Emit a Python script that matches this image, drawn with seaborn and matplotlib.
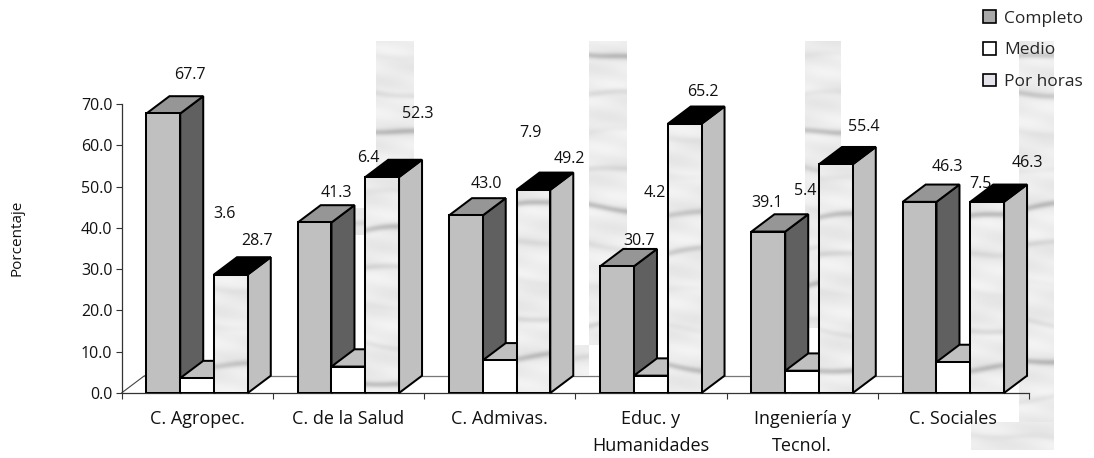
import matplotlib
matplotlib.use('Agg')
import matplotlib.pyplot as plt
from matplotlib.patches import Polygon, Patch

import numpy as np
import pandas as pd
import seaborn as sns

categories = ['C. Agropec.', 'C. de la Salud', 'C. Admivas.',
              'Educ. y\nHumanidades', 'Ingeniería y\nTecnol.', 'C. Sociales']
series = ['Completo', 'Medio', 'Por horas']
completo = [67.7, 41.3, 43.0, 30.7, 39.1, 46.3]
medio = [3.6, 6.4, 7.9, 4.2, 5.4, 7.5]
por_horas = [28.7, 52.3, 49.2, 65.2, 55.4, 46.3]

# label offsets from the top centre of each bar, in pixels
label_off = {
    'Completo': [(26.7, 38.4), (21.5, 29.4), (20.3, 31.4), (22, 25), (-1, 28.5), (27.7, 34.8)],
    'Medio': [(26.9, 164), (19.7, 208.6), (30.5, 227), (4.3, 182.7), (3, 179.7), (26.9, 178)],
    'Por horas': [(26.1, 33.5), (35.9, 63), (35.7, 30.8), (18.5, 31.7), (28.3, 37), (40, 39)],
}

W, H = 1094, 458
FONT = 'Open Sans'
DEPTH_X = 0.152   # category units
DEPTH_Y = 4.19    # percent units
EDGE = 1.45

front = {'Completo': '#c0c0c0', 'Medio': '#ffffff', 'Por horas': '#e4e4ea'}
top = {'Completo': '#969696', 'Medio': '#c0c0c0', 'Por horas': '#000000'}
side = {'Completo': '#606060', 'Medio': '#c0c0c0', 'Por horas': '#c0c0c0'}

# stray background pieces of the marble picture: x0, x1, y0, y1 in pixels
strips = [(376, 414, 41, 235), (589, 627, 41, 345), (805, 841, 41, 328),
          (1019, 1054, 41, 422), (971, 1054, 422, 450), (352, 376, 208, 235),
          (575, 589, 345, 375), (790, 805, 328, 345)]


def marble(w, h, seed):
    '''Soft grey streaks, only used as a fill.'''
    y, x = np.mgrid[0:h, 0:w]
    v = 0.925 + 0.015 * np.sin(y / 9 + x / 20 + seed) + 0.012 * np.sin(y / 3.5 - x / 14 + seed * 2)
    for k, yk in enumerate(np.arange(14, h, 38)):
        centre = yk + 2.5 * np.sin(x / (16 + k) + seed + k) + (x - w / 2) * 0.15 * np.sin(k * 1.3 + seed)
        depth = 0.02 + 0.16 * np.sin(k * 2.3 + seed) ** 4
        v = v - depth * np.exp(-((y - centre) / 3.2) ** 2)
    return v


sns.set_style('white')
plt.rcParams['font.family'] = [FONT, 'DejaVu Sans']

df = pd.DataFrame({
    'area': categories * 3,
    'tipo': [s for s in series for _ in categories],
    'pct': completo + medio + por_horas,
})

fig = plt.figure(figsize=(W / 100, H / 100), dpi=100)

bg = fig.add_axes([0, 0, 1, 1], zorder=0)
bg.axis('off')
for n, (x0, x1, y0, y1) in enumerate(strips):
    bg.imshow(marble(x1 - x0, y1 - y0, n * 1.7), cmap='gray', vmin=0, vmax=1,
              extent=(x0, x1, y1, y0), aspect='auto', interpolation='bilinear')
bg.set_xlim(0, W)
bg.set_ylim(H, 0)

ax = fig.add_axes([121.5 / W, (H - 393) / H, 907.5 / W, 289 / H], zorder=1)
ax.patch.set_visible(False)

sns.barplot(data=df, x='area', y='pct', hue='tipo', hue_order=series, palette=front,
            width=0.67, gap=0, saturation=1, edgecolor='black', linewidth=EDGE,
            legend=False, ax=ax)

px_per_unit = 289 / 70
for j, (name, container) in enumerate(zip(series, ax.containers)):
    for i, bar in enumerate(container.patches):
        x0 = bar.get_x()
        x1 = x0 + bar.get_width()
        v = bar.get_height()
        z = 3 + i * 10 + j * 3
        bar.set_zorder(z + 2)
        ax.add_patch(Polygon([(x1, 0), (x1 + DEPTH_X, DEPTH_Y), (x1 + DEPTH_X, v + DEPTH_Y), (x1, v)],
                             facecolor=side[name], edgecolor='black', linewidth=EDGE,
                             clip_on=False, zorder=z))
        ax.add_patch(Polygon([(x0, v), (x0 + DEPTH_X, v + DEPTH_Y), (x1 + DEPTH_X, v + DEPTH_Y), (x1, v)],
                             facecolor=top[name], edgecolor='black', linewidth=EDGE,
                             clip_on=False, zorder=z + 0.5))
        if name == 'Por horas':
            im = ax.imshow(marble(34, int(v * px_per_unit), i * 2.1 + 0.5), cmap='gray', vmin=0, vmax=1,
                           extent=(x0, x1, 0, v), aspect='auto', zorder=z + 1, interpolation='bilinear')
            im.set_clip_path(bar)
            bar.set_facecolor('none')

values = {'Completo': completo, 'Medio': medio, 'Por horas': por_horas}
for name, container in zip(series, ax.containers):
    for bar, val, (dx, dy) in zip(container.patches, values[name], label_off[name]):
        ax.annotate('%.1f' % val, (bar.get_x() + bar.get_width() / 2, val),
                    xytext=(dx * 0.72, dy * 0.72), textcoords='offset points',
                    ha='center', va='center', fontsize=11.5, color='#111111', zorder=200)

# floor of the 3d box
last = ax.containers[-1].patches[-1]
ax.plot([-0.5, -0.5 + DEPTH_X], [0, DEPTH_Y], color='#444444', lw=0.8, zorder=1, clip_on=False)
ax.plot([-0.5 + DEPTH_X, last.get_x() + last.get_width() + DEPTH_X], [DEPTH_Y, DEPTH_Y],
        color='#777777', lw=0.9, zorder=1, clip_on=False)

ax.set_xlim(-0.5, 5.5)
ax.set_ylim(0, 70)
ax.set_yticks(np.arange(0, 71, 10))
ax.set_yticklabels(['%.1f' % t for t in np.arange(0, 71, 10)], fontsize=11.5, color='#111111')
ax.set_xticks(range(len(categories)))
ax.set_xticklabels(categories, fontsize=13, linespacing=1.68, color='#111111')
ax.set_xticks(np.arange(-0.5, 6), minor=True)
ax.tick_params(axis='x', which='major', length=0, pad=12)
ax.tick_params(axis='x', which='minor', length=4, width=0.8, color='#333333', bottom=True)
ax.tick_params(axis='y', length=4.5, width=0.8, color='#333333', left=True, pad=2)
ax.set_xlabel('')
ax.set_ylabel('Porcentaje', fontsize=11, color='#111111')
ax.yaxis.set_label_coords(-0.107, 0.536)
sns.despine(ax=ax)
for s in ('left', 'bottom'):
    ax.spines[s].set_color('#333333')
    ax.spines[s].set_linewidth(0.9)

handles = [Patch(facecolor=front[s] if s != 'Completo' else '#a8a8a8', edgecolor='black', linewidth=1.2, label=s)
           for s in series]
ax.legend(handles=handles, loc='upper left', bbox_to_anchor=(978 / W, 1 - 5 / H),
          bbox_transform=fig.transFigure, frameon=False, fontsize=12.5, handlelength=0.75,
          handleheight=0.75, handletextpad=0.45, labelspacing=0.88, borderpad=0.3, borderaxespad=0)

fig.savefig('out.png', dpi=100)
